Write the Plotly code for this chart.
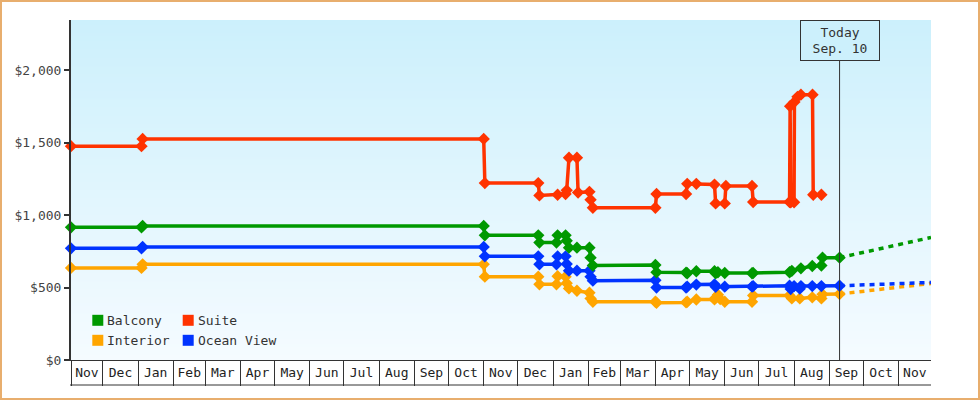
import plotly.graph_objects as go
import pandas as pd
import zlib, struct, base64

# ---------------- data ----------------
X_START = "2016-11-03"
X_END = "2018-11-29 10:00"
TODAY = "2018-09-10"
TODAY_LABEL = "Today<br>Sep. 10"

MONTH_LABELS = ["Nov", "Dec", "Jan", "Feb", "Mar", "Apr", "May", "Jun", "Jul", "Aug", "Sep", "Oct",
                "Nov", "Dec", "Jan", "Feb", "Mar", "Apr", "May", "Jun", "Jul", "Aug", "Sep", "Oct", "Nov"]
Y_TICKS = [0, 500, 1000, 1500, 2000]
Y_TICK_LABELS = ["$0", "$500", "$1,000", "$1,500", "$2,000"]
Y_MAX = 2345

SUITE_DATES = ["2016-11-03", "2017-01-04", "2017-01-05", "2017-11-01", "2017-11-02", "2017-12-19",
               "2017-12-20", "2018-01-05", "2018-01-12", "2018-01-13", "2018-01-15", "2018-01-22",
               "2018-01-23", "2018-02-02", "2018-02-03", "2018-02-05", "2018-04-01", "2018-04-02",
               "2018-04-28", "2018-04-29", "2018-05-07", "2018-05-23", "2018-05-24", "2018-06-01",
               "2018-06-02", "2018-06-25", "2018-06-26", "2018-07-28 00:00", "2018-07-28 12:00",
               "2018-07-29 02:00", "2018-08-01 00:00", "2018-08-01 07:00", "2018-08-04", "2018-08-07",
               "2018-08-17 05:00", "2018-08-17 20:00", "2018-08-25"]
SUITE_VALUES = [1475, 1475, 1525, 1525, 1220, 1220,
                1135, 1140, 1145, 1170, 1395, 1395,
                1155, 1160, 1105, 1050, 1050, 1145,
                1145, 1215, 1215, 1210, 1080, 1080,
                1200, 1200, 1090, 1090, 1750,
                1088, 1088, 1780, 1815, 1830,
                1830, 1140, 1140]

BALCONY_DATES = ["2016-11-03", "2017-01-04", "2017-01-05", "2017-11-01", "2017-11-02", "2017-12-19",
                 "2017-12-20", "2018-01-04", "2018-01-05", "2018-01-12", "2018-01-13", "2018-01-15",
                 "2018-01-22", "2018-02-02", "2018-02-03", "2018-02-05", "2018-04-01", "2018-04-02",
                 "2018-04-28", "2018-04-29", "2018-05-07", "2018-05-23", "2018-05-24", "2018-05-26",
                 "2018-06-01", "2018-06-25", "2018-06-26", "2018-07-28", "2018-07-30", "2018-08-07",
                 "2018-08-17", "2018-08-25", "2018-08-26", "2018-09-10"]
BALCONY_VALUES = [915, 915, 925, 925, 860, 860,
                  810, 810, 860, 860, 823, 775,
                  775, 775, 706, 652, 655, 605,
                  603, 598, 612, 612, 598, 605,
                  600, 598, 600, 605, 615, 632,
                  648, 652, 706, 706]

OCEAN_DATES = ["2016-11-03", "2017-01-04", "2017-01-05", "2017-11-01", "2017-11-02", "2017-12-19",
               "2017-12-20", "2018-01-04", "2018-01-05", "2018-01-12", "2018-01-13", "2018-01-15",
               "2018-01-22", "2018-02-02", "2018-02-03", "2018-02-05", "2018-04-01", "2018-04-02",
               "2018-04-28", "2018-04-29", "2018-05-07", "2018-05-23", "2018-05-24", "2018-06-01",
               "2018-06-25", "2018-06-26", "2018-07-28", "2018-07-29", "2018-08-01", "2018-08-06",
               "2018-08-07", "2018-08-17", "2018-08-25", "2018-09-10"]
OCEAN_VALUES = [770, 770, 780, 780, 715, 715,
                660, 660, 715, 715, 662, 616,
                616, 616, 575, 547, 550, 500,
                500, 506, 520, 522, 505, 506,
                506, 510, 512, 490, 510, 492,
                510, 510, 510, 512]

INTERIOR_DATES = ["2016-11-03", "2017-01-04", "2017-01-05", "2017-11-01", "2017-11-02", "2017-12-19",
                  "2017-12-20", "2018-01-04", "2018-01-05", "2018-01-12", "2018-01-13", "2018-01-15",
                  "2018-01-22", "2018-02-02", "2018-02-03", "2018-02-05", "2018-04-01", "2018-04-02",
                  "2018-04-28", "2018-04-29", "2018-05-07", "2018-05-23", "2018-05-24", "2018-05-26",
                  "2018-05-28", "2018-06-01", "2018-06-25", "2018-06-26", "2018-07-28", "2018-07-30",
                  "2018-08-06", "2018-08-17", "2018-08-25", "2018-08-26", "2018-09-10"]
INTERIOR_VALUES = [635, 635, 660, 660, 575, 575,
                   522, 522, 578, 575, 530, 494,
                   478, 464, 425, 402, 402, 395,
                   397, 402, 417, 418, 430, 450,
                   420, 402, 402, 445, 445, 425,
                   425, 432, 425, 453, 455]

PROJ_DATES = [TODAY, X_END]
BALCONY_PROJ = [706, 845]
OCEAN_PROJ = [512, 535]
INTERIOR_PROJ = [455, 528]

SERIES = [
    ("Interior", INTERIOR_DATES, INTERIOR_VALUES, INTERIOR_PROJ, "#FFA500"),
    ("Ocean View", OCEAN_DATES, OCEAN_VALUES, OCEAN_PROJ, "#0033FF"),
    ("Balcony", BALCONY_DATES, BALCONY_VALUES, BALCONY_PROJ, "#009900"),
    ("Suite", SUITE_DATES, SUITE_VALUES, None, "#FF3300"),
]
COLORS = {name: c for name, _, _, _, c in SERIES}
LEGEND_ROWS = [["Balcony", "Suite"], ["Interior", "Ocean View"]]

# ---------------- layout geometry ----------------
W, H = 980, 400
L, R, T, B = 71, 49, 20, 40
PW, PH = W - L - R, H - T - B
FONT = "DejaVu Sans Mono"


def px(xp):
    return (xp - L) / PW


def py(yp):
    return (H - B - yp) / PH


def gradient_png(h, top, bot, w=4):
    raw = b""
    for i in range(h):
        t = i / (h - 1)
        c = bytes(round(top[k] + (bot[k] - top[k]) * t) for k in range(3))
        raw += b"\x00" + c * w

    def chunk(tag, data):
        return (struct.pack(">I", len(data)) + tag + data +
                struct.pack(">I", zlib.crc32(tag + data) & 0xffffffff))
    ihdr = struct.pack(">IIBBBBB", w, h, 8, 2, 0, 0, 0)
    png = (b"\x89PNG\r\n\x1a\n" + chunk(b"IHDR", ihdr) +
           chunk(b"IDAT", zlib.compress(raw)) + chunk(b"IEND", b""))
    return "data:image/png;base64," + base64.b64encode(png).decode()


# month boundaries and label centres
month_starts = list(pd.date_range("2016-12-01", periods=24, freq="MS"))
bounds = [pd.Timestamp(X_START)] + month_starts + [pd.Timestamp(X_END)]
mids = [bounds[i] + (bounds[i + 1] - bounds[i]) / 2 for i in range(len(bounds) - 1)]

fig = go.Figure()

for name, dates, vals, proj, color in SERIES:
    if proj is not None:
        fig.add_trace(go.Scatter(
            x=PROJ_DATES, y=proj, mode="lines", showlegend=False, hoverinfo="skip",
            line=dict(color=color, width=3.5, dash="5px,5px"), cliponaxis=False))
for name, dates, vals, proj, color in SERIES:
    fig.add_trace(go.Scatter(
        x=dates, y=vals, name=name, mode="lines+markers", showlegend=False,
        line=dict(color=color, width=3.5),
        marker=dict(symbol="diamond", size=9.5, color=color),
        cliponaxis=False))

shapes = [
    # today line
    dict(type="line", xref="x", yref="paper", x0=TODAY, x1=TODAY, y0=0, y1=py(61),
         line=dict(color="#333333", width=1)),
    # bottom of month boxes
    dict(type="line", xref="paper", yref="paper", x0=px(70), x1=1, y0=py(385), y1=py(385),
         line=dict(color="#333333", width=1)),
    # outer border
    dict(type="rect", xref="paper", yref="paper", x0=px(1), x1=px(979), y0=py(399), y1=py(1),
         line=dict(color="#E8AE6E", width=2)),
]

annotations = [
    dict(x=TODAY, xref="x", y=1, yref="paper", xanchor="center", yanchor="top",
         text=TODAY_LABEL, showarrow=False, align="center",
         font=dict(family=FONT, size=13, color="#333333"),
         bgcolor="#CCF0FC", bordercolor="#333333", borderwidth=1, borderpad=2,
         width=74, height=35),
]

# legend (square swatches + labels)
col_x = [92.3, 182.7]
row_y = [320.3, 340.3]
for r, row in enumerate(LEGEND_ROWS):
    for c, name in enumerate(row):
        x0 = col_x[c]
        yc = row_y[r]
        shapes.append(dict(type="rect", xref="paper", yref="paper",
                           x0=px(x0), x1=px(x0 + 11), y0=py(yc + 5.5), y1=py(yc - 5.5),
                           fillcolor=COLORS[name], line=dict(width=0)))
        annotations.append(dict(x=px(x0 + 13), y=py(yc), xref="paper", yref="paper",
                                xanchor="left", yanchor="middle", text=name, showarrow=False,
                                font=dict(family=FONT, size=13, color="#333333")))

fig.update_layout(
    width=W, height=H,
    margin=dict(l=L, r=R, t=T, b=B),
    paper_bgcolor="white", plot_bgcolor="white",
    font=dict(family=FONT, size=13, color="#333333"),
    showlegend=False,
    shapes=shapes,
    annotations=annotations,
    images=[dict(source=gradient_png(340, (204, 240, 252), (245, 251, 255)),
                 xref="paper", yref="paper", x=0, y=1, sizex=1, sizey=1,
                 xanchor="left", yanchor="top", sizing="stretch", layer="below")],
    xaxis=dict(
        type="date", range=[X_START, X_END], showgrid=False, zeroline=False,
        showline=True, linecolor="#333333", linewidth=1,
        tickmode="array", tickvals=mids, ticktext=MONTH_LABELS, ticks="",
        tickfont=dict(family=FONT, size=13, color="#222222"),
        minor=dict(tickmode="array", tickvals=bounds[:-1], ticks="outside", ticklen=25,
                   tickwidth=1, tickcolor="#333333", showgrid=False),
        fixedrange=True,
    ),
    yaxis=dict(
        range=[0, Y_MAX], showgrid=False, zeroline=False,
        showline=True, linecolor="#333333", linewidth=2,
        tickmode="array", tickvals=Y_TICKS, ticktext=Y_TICK_LABELS,
        ticks="outside", ticklen=5, tickwidth=2, tickcolor="#333333",
        tickfont=dict(family=FONT, size=13, color="#444444"),
        fixedrange=True,
    ),
)

fig.write_html("out.html", config={"displayModeBar": False},
               post_script="document.body.style.margin='0';")
